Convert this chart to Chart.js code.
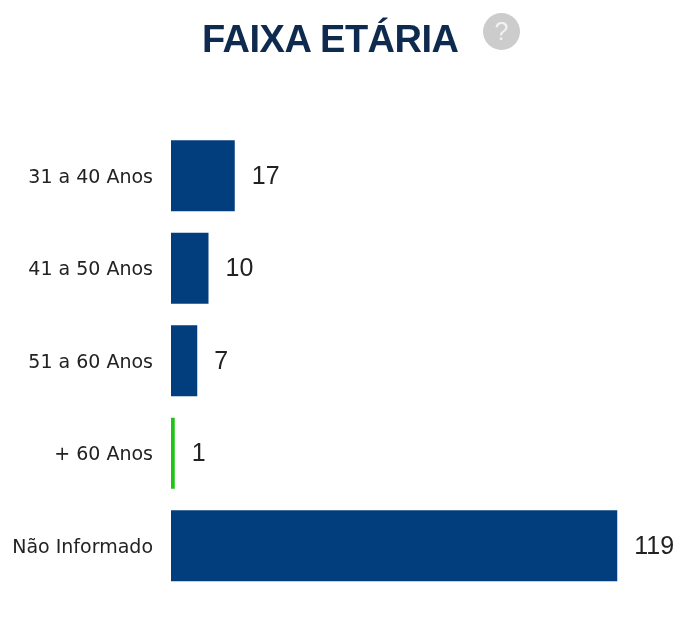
<!DOCTYPE html>
<html>
<head>
<meta charset="utf-8">
<script src="https://cdn.jsdelivr.net/npm/chart.js@4"></script>
<style>
html,body{margin:0;padding:0;background:#fff;}
#wrap{position:relative;width:684px;height:625px;overflow:hidden;}
#title{position:absolute;left:202px;top:18px;font:bold 38px "Liberation Sans",Arial,sans-serif;color:#0f2a4f;letter-spacing:-0.5px;white-space:nowrap;}
#help{position:absolute;left:483px;top:13px;width:37px;height:37px;border-radius:50%;background:#cccccc;color:#f2f2f2;font:25px/37px "Liberation Sans",Arial,sans-serif;text-align:center;}
#c{position:absolute;left:0;top:0;}
</style>
</head>
<body>
<div id="wrap">
<canvas id="c" width="684" height="625"></canvas>
<div id="title">FAIXA ETÁRIA</div>
<div id="help">?</div>
</div>
<script>
var categories = ["31 a 40 Anos", "41 a 50 Anos", "51 a 60 Anos", "+ 60 Anos", "Não Informado"];
var seriesValues = [17, 10, 7, 1, 119];
var barColors = ["#023e7d", "#023e7d", "#023e7d", "#1fc414", "#023e7d"];

// tick labels sit a little under the bar centre in the original, so they are drawn here
var barLabels = {
  id: "barLabels",
  afterDatasetsDraw: function(chart) {
    var ctx = chart.ctx;
    var meta = chart.getDatasetMeta(0);
    var yScale = chart.scales.y;
    ctx.save();
    ctx.fillStyle = "#222222";
    ctx.textBaseline = "middle";
    ctx.font = '19px "DejaVu Sans", sans-serif';
    ctx.textAlign = "right";
    categories.forEach(function(name, i) {
      ctx.fillText(name, yScale.right - 18, yScale.getPixelForTick(i) + 2);
    });
    ctx.font = '25px "Liberation Sans", Arial, sans-serif';
    ctx.textAlign = "left";
    meta.data.forEach(function(bar, i) {
      ctx.fillText(seriesValues[i], bar.x + 17, bar.y + 1);
    });
    ctx.restore();
  }
};

new Chart(document.getElementById("c").getContext("2d"), {
  type: "bar",
  data: {
    labels: categories,
    datasets: [{
      data: seriesValues,
      backgroundColor: barColors,
      categoryPercentage: 0.77,
      barPercentage: 1
    }]
  },
  options: {
    indexAxis: "y",
    responsive: false,
    animation: false,
    layout: { padding: { left: 0, top: 129.5, right: 0, bottom: 33 } },
    plugins: { legend: { display: false }, tooltip: { enabled: false } },
    scales: {
      x: { display: false, min: 0, max: 136.8 },
      y: {
        grid: { display: false },
        border: { display: false },
        afterFit: function(scale) { scale.width = 171; },
        ticks: { display: false }
      }
    }
  },
  plugins: [barLabels]
});
</script>
</body>
</html>
